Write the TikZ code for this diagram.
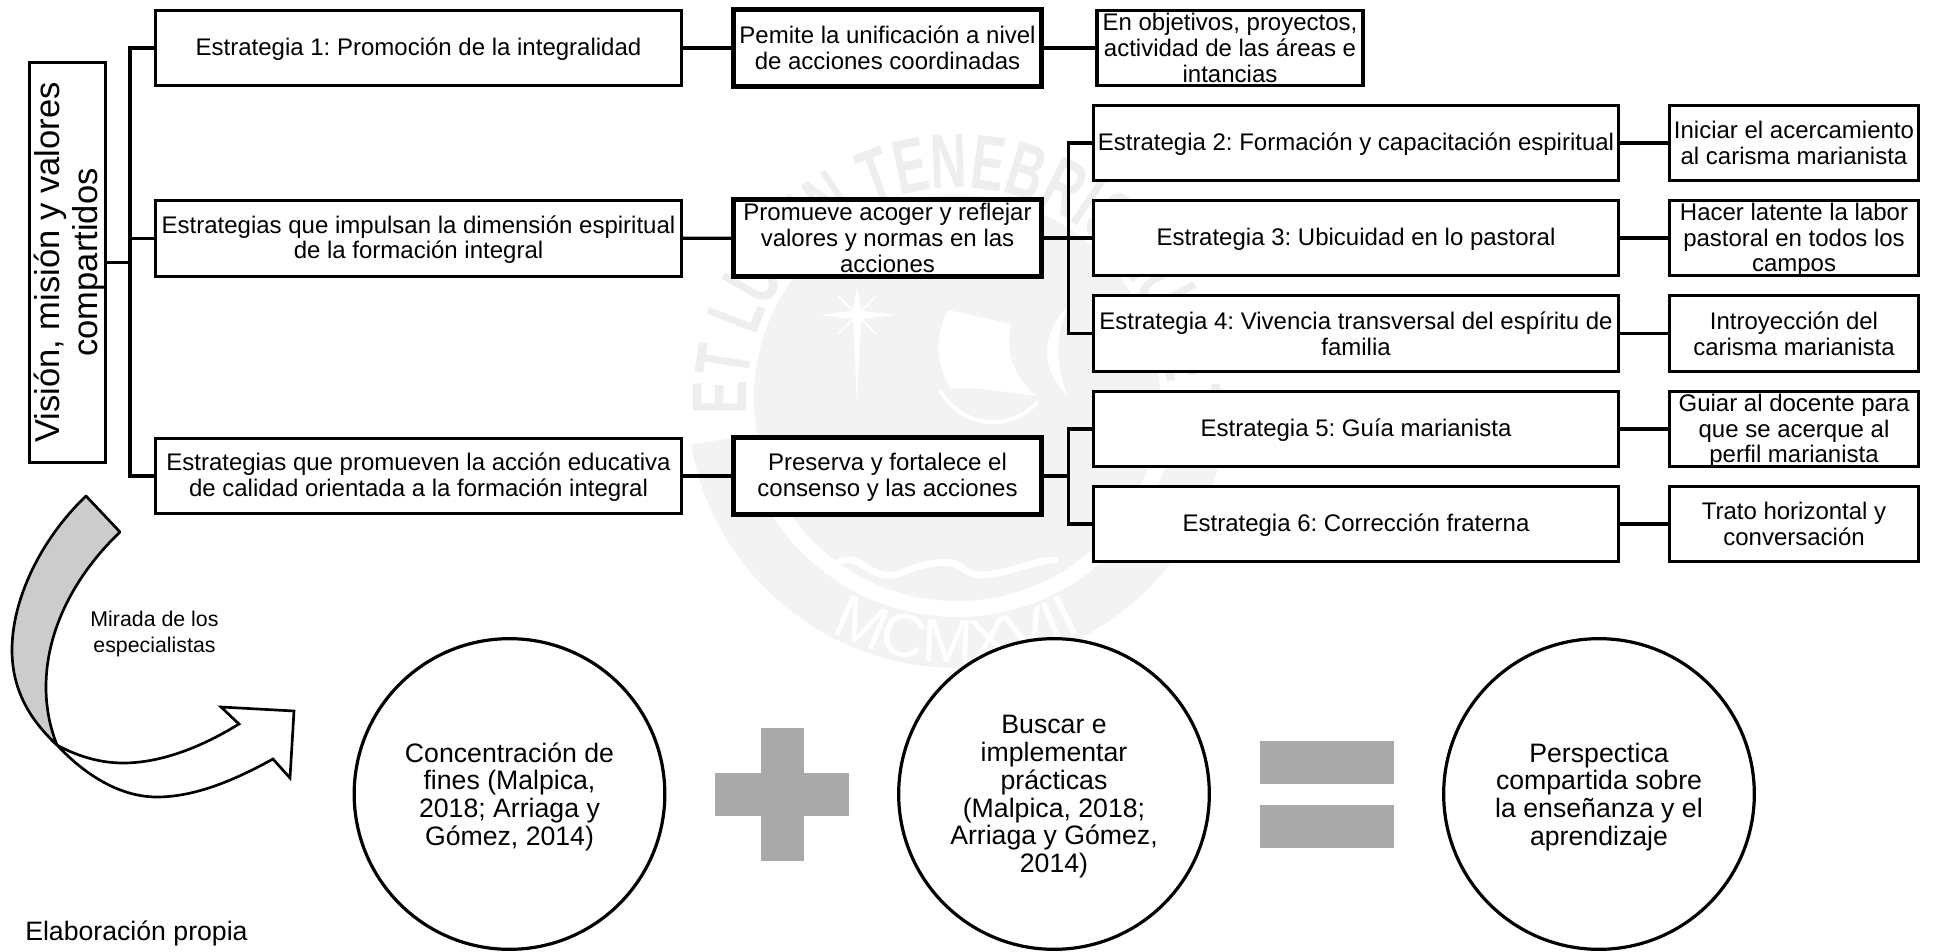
\documentclass[tikz,border=0pt]{standalone}
\usepackage{fontspec}
\setmainfont{Liberation Sans}
\newfontfamily\sealfont[FakeStretch=0.65]{Liberation Sans}
\usepackage{xcolor}
\usetikzlibrary{decorations.text}

\definecolor{sealgray}{HTML}{F3F3F3}
\definecolor{sealtext}{HTML}{EEEEEE}
\definecolor{symgray}{HTML}{A9A9A9}
\definecolor{bandgray}{HTML}{CCCCCC}

\tikzset{
    plainbox/.style={draw=black, fill=white, line width=2.4pt, inner sep=0pt, align=center, font=\frenchspacing\fontsize{18}{19.2}\selectfont},
    lifted/.style={text depth=2pt},
    stratbox/.style={plainbox, minimum width=394pt, minimum height=56.5pt},
    actbox/.style={plainbox, line width=3.9pt, minimum width=231pt, minimum height=57.6pt},
    goalbox/.style={plainbox, minimum width=199.5pt, minimum height=56.5pt},
    resbox/.style={plainbox, minimum width=186.6pt, minimum height=56.5pt},
    bigcircle/.style={plainbox, circle, minimum size=233pt, font=\frenchspacing\fontsize{20}{20.8}\selectfont, text depth=-1.4pt},
    link/.style={draw=black, line width=2.4pt},
    sealline/.style={draw=white, line width=3pt, line cap=round}
}

\begin{document}
\begin{tikzpicture}[x=0.75pt, y=-0.75pt]
\useasboundingbox (0,0) rectangle (1939,952);

\begin{scope}[shift={(957,398)}, x=0.75pt, y=0.75pt]
    \fill[sealgray] (0,0) circle[radius=203];
    \fill[sealgray] (190:270) arc[start angle=190, end angle=350, radius=270] -- (350:219) arc[start angle=350, end angle=190, radius=219] -- cycle;
    \path[decorate, decoration={text along path, text align=center, text={|\sealfont\bfseries\fontsize{58}{58}\selectfont\color{sealtext}|ET LUX IN TENEBRIS LUCET}}] (190:210) arc[start angle=190, end angle=-10, radius=210];
    \path[decorate, decoration={text along path, text align=center, text={|\fontsize{46}{46}\selectfont\color{white}|MCMXVII}}] (225:265) arc[start angle=225, end angle=315, radius=265];
\end{scope}

\fill[white] (857,287) -- (861,311) -- (898,315) -- (861,319) -- (857,403) -- (853,319) -- (819,315) -- (853,311) -- cycle;
\draw[sealline, line width=1.5pt] (838,296) -- (876,334) (876,296) -- (838,334);
\fill[white] (948,310) -- (1012,324) .. controls (1005,345) and (1010,375) .. (1037,396) .. controls (1000,392) and (970,385) .. (951,389) .. controls (935,365) and (935,335) .. (948,310) -- cycle;
\fill[white] (1068,306) .. controls (1040,335) and (1040,370) .. (1068,396) .. controls (1055,365) and (1055,335) .. (1068,306) -- cycle;
\draw[sealline] (941,392) .. controls (965,430) and (1010,430) .. (1037,403);
\draw[sealline, line width=5pt] (830,567) .. controls (860,545) and (865,580) .. (895,575) .. controls (920,565) and (950,555) .. (965,570) .. controls (985,585) and (1030,560) .. (1055,560);

\node[plainbox, text depth=2.6pt, rotate=90, minimum width=300pt, minimum height=57pt, font=\fontsize{25.9}{28.5}\selectfont] (vision) at (67.5,262.5) {Visión, misión y valores\\compartidos};

\node[stratbox, lifted] (stratA) at (418.5,48) {Estrategia 1: Promoción de la integralidad};
\node[stratbox, lifted] (stratB) at (418.5,238.5) {Estrategias que impulsan la dimensión espiritual\\de la formación integral};
\node[stratbox, lifted] (stratC) at (418.5,476) {Estrategias que promueven la acción educativa\\de calidad orientada a la formación integral};

\node[actbox] (actA) at (887.5,48) {Pemite la unificación a nivel\\de acciones coordinadas};
\node[actbox] (actB) at (887.5,238) {Promueve acoger y reflejar\\valores y normas en las\\acciones};
\node[actbox, lifted] (actC) at (887.5,476) {Preserva y fortalece el\\consenso y las acciones};

\node[goalbox] (goalA) at (1230,48) {En objetivos, proyectos,\\actividad de las áreas e\\intancias};

\node[stratbox, lifted] (estrTwo) at (1356,143) {Estrategia 2: Formación y capacitación espiritual};
\node[stratbox, lifted] (estrThree) at (1356,238) {Estrategia 3: Ubicuidad en lo pastoral};
\node[stratbox] (estrFour) at (1356,333.5) {Estrategia 4: Vivencia transversal del espíritu de\\familia};
\node[stratbox, lifted] (estrFive) at (1356,429) {Estrategia 5: Guía marianista};
\node[stratbox, lifted] (estrSix) at (1356,524) {Estrategia 6: Corrección fraterna};

\node[resbox] (resTwo) at (1794,143) {Iniciar el acercamiento\\al carisma marianista};
\node[resbox, text depth=1pt] (resThree) at (1794,238) {Hacer latente la labor\\pastoral en todos los\\campos};
\node[resbox] (resFour) at (1794,333.5) {Introyección del\\carisma marianista};
\node[resbox, text depth=1pt] (resFive) at (1794,429) {Guiar al docente para\\que se acerque al\\perfil marianista};
\node[resbox] (resSix) at (1794,524) {Trato horizontal y\\conversación};

\coordinate (trunk) at (130,262.5);
\coordinate (busB) at (1068.6,238);
\coordinate (busC) at (1068.6,476);

\draw[link] (vision.south) -- (trunk);
\draw[link] (trunk) |- (stratA.west);
\draw[link] (trunk) |- (stratB.west);
\draw[link] (trunk) |- (stratC.west);
\draw[link] (stratA) -- (actA);
\draw[link] (stratB) -- (actB);
\draw[link] (stratC) -- (actC);
\draw[link] (actA) -- (goalA);
\draw[link] (actB) -- (busB);
\draw[link] (actC) -- (busC);
\draw[link] (busB) |- (estrTwo.west);
\draw[link] (busB) -- (estrThree.west);
\draw[link] (busB) |- (estrFour.west);
\draw[link] (busC) |- (estrFive.west);
\draw[link] (busC) |- (estrSix.west);
\draw[link] (estrTwo) -- (resTwo);
\draw[link] (estrThree) -- (resThree);
\draw[link] (estrFour) -- (resFour);
\draw[link] (estrFive) -- (resFive);
\draw[link] (estrSix) -- (resSix);

\draw[draw=black, fill=bandgray, line width=2pt, line join=round] (86,496) .. controls (40,540) and (12,600) .. (12,650) .. controls (12,690) and (30,720) .. (57,745) .. controls (49,725) and (46,705) .. (46,687) .. controls (46,630) and (75,575) .. (120,532) -- cycle;
\draw[draw=black, fill=white, line width=2pt, line join=miter] (57,745) .. controls (85,775) and (120,797) .. (157,797) .. controls (195,797) and (235,780) .. (273,759) -- (290,778) -- (294,711) -- (221,707) -- (239,724) .. controls (200,748) and (160,763) .. (123,763) .. controls (98,763) and (75,755) .. (57,745) -- cycle;

\node[align=center, inner sep=0pt, font=\fontsize{16}{19.3}\selectfont] (mirada) at (154.5,634) {Mirada de los\\especialistas};

\node[bigcircle] (fines) at (509.5,794) {Concentración de\\fines (Malpica,\\2018; Arriaga y\\Gómez, 2014)};
\node[bigcircle] (practicas) at (1054,794) {Buscar e\\implementar\\prácticas\\(Malpica, 2018;\\Arriaga y Gómez,\\2014)};
\node[bigcircle] (perspectiva) at (1599,794) {Perspectica\\compartida sobre\\la enseñanza y el\\aprendizaje};

\fill[symgray] (760.5,728) rectangle (804,861);
\fill[symgray] (715,773) rectangle (849,816);
\fill[symgray] (1260,741) rectangle (1394,784);
\fill[symgray] (1260,805) rectangle (1394,848);

\node[anchor=west, inner sep=0pt, font=\fontsize{20}{22}\selectfont] (fuente) at (25,933) {Elaboración propia};
\end{tikzpicture}
\end{document}
